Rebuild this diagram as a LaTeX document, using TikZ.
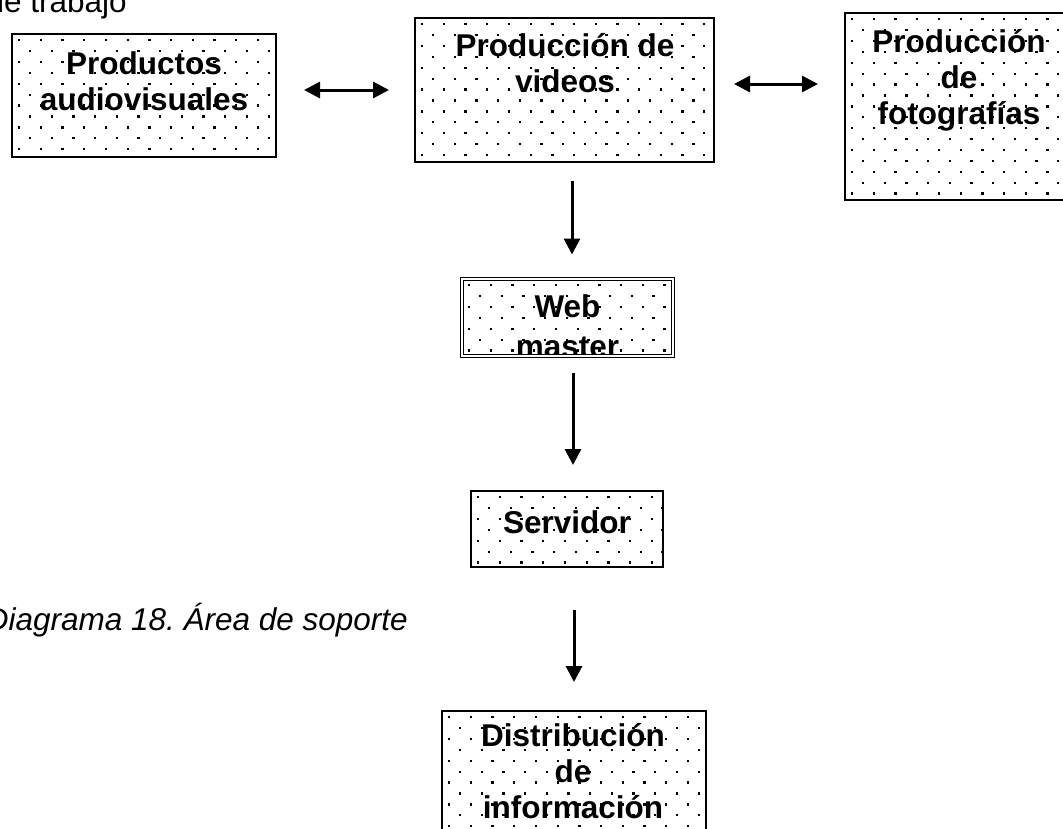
\documentclass[tikz,border=0pt]{standalone}
\usepackage{fontspec}
\setmainfont{Liberation Sans}
\usetikzlibrary{arrows.meta,calc}
\frenchspacing
\newcommand\mydotgrid{%
  \foreach \r in {0,...,18}{\foreach \c in {0,...,14}{%
    \fill ([xshift={\c*21.7pt+mod(\r,2)*10.85pt+6pt}, yshift={-\r*10.9pt-5pt}]path picture bounding box.north west) rectangle ++(2.3,2.3);}}}
\tikzset{
  dotbox/.style={draw, line width=2pt, inner sep=0pt, path picture={\mydotgrid}},
  boxtext/.style={font=\bfseries\fontsize{31.5}{36}\selectfont, align=center, anchor=base, inner sep=0pt},
  plaintext/.style={font=\fontsize{31.5}{36}\selectfont, inner sep=0pt},
  arr/.style={line width=3pt, -{Triangle[length=16pt,width=16pt]}},
  darr/.style={line width=3pt, {Triangle[length=16pt,width=16pt]}-{Triangle[length=16pt,width=16pt]}},
}
\begin{document}
\begin{tikzpicture}[x=1pt,y=-1pt]
\useasboundingbox (0,0) rectangle (1063,828);
\fill[white] (0,0) rectangle (1063,828);
% boxes
\node[dotbox, minimum width=264, minimum height=123] (prod) at (144,95.5) {};
\node[dotbox, minimum width=299, minimum height=144] (vid) at (564.5,90) {};
\node[dotbox, minimum width=228, minimum height=187] (foto) at (959,106.5) {};
\node[draw, line width=1pt, double=white, double distance=1.4pt, inner sep=0pt,
      minimum width=211, minimum height=77,
      path picture={\mydotgrid
        \node[boxtext] (webtxt) at ([yshift=-78pt]path picture bounding box.north) {Web\\[4pt]master};}]
      (web) at (567.5,317.5) {};
\node[dotbox, minimum width=192, minimum height=76] (serv) at (567,529) {};
\node[dotbox, minimum width=264, minimum height=130] (dist) at (574,776) {};
% box texts
\node[boxtext] (prodtxt) at (144,110) {Productos\\audiovisuales};
\node[boxtext] (vidtxt) at (565,92) {Producción de\\videos};
\node[boxtext] (fototxt) at (959,124) {Producción\\de\\fotografías};
\node[boxtext] (servtxt) at (567,533) {Servidor};
\node[boxtext] (disttxt) at (573,818) {Distribución\\de\\información};
% free texts
\node[plaintext, anchor=base east] (top) at (127,12) {de trabajo};
\node[plaintext, anchor=base east, font=\itshape\fontsize{31.5}{36}\selectfont] (cap) at (408,630) {Diagrama 18. Área de soporte};
% connectors
\draw[darr, shorten <=27pt, shorten >=25pt] (prod.east |- vid.west) -- (vid.west);
\draw[darr, shorten <=19pt, shorten >=26pt] ([yshift=6pt]vid.east) -- ([yshift=6pt]vid.east -| foto.west);
\draw[arr, shorten <=18pt, shorten >=24pt] ([xshift=4.5pt]web.north |- vid.south) -- ([xshift=4.5pt]web.north);
\draw[arr, shorten <=16pt, shorten >=25pt] ([xshift=6pt]serv.north |- web.south) -- ([xshift=6pt]serv.north);
\draw[arr, shorten <=42pt, shorten >=28pt] (dist.north |- serv.south) -- (dist.north);
\end{tikzpicture}
\end{document}
